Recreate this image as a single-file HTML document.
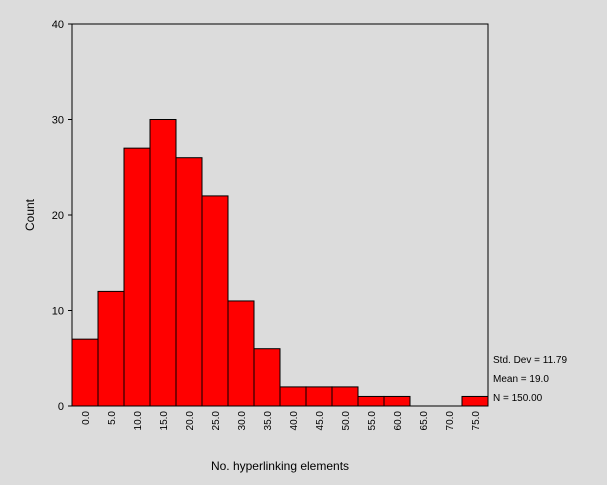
<!DOCTYPE html>
<html><head><meta charset="utf-8"><style>
body{margin:0;background:#dcdcdc;}
svg{display:block;font-family:"Liberation Sans",sans-serif;}
</style></head><body>
<svg id="c" width="607" height="485">
<rect x="0" y="0" width="607" height="485" fill="#dcdcdc"/>
<g id="plot"></g>
<text x="34" y="215" font-size="12" text-anchor="middle" transform="rotate(-90 34 215)">Count</text>
<text x="280" y="470" font-size="12" text-anchor="middle">No. hyperlinking elements</text>
<text x="493" y="363" font-size="10">Std. Dev = 11.79</text>
<text x="493" y="382" font-size="10">Mean = 19.0</text>
<text x="493" y="401" font-size="10">N = 150.00</text>
</svg>
<script>
const categories=["0.0","5.0","10.0","15.0","20.0","25.0","30.0","35.0","40.0","45.0","50.0","55.0","60.0","65.0","70.0","75.0"];
const counts=[7,12,27,30,26,22,11,6,2,2,2,1,1,0,0,1];
const yTicks=[0,10,20,30,40];
const NS="http://www.w3.org/2000/svg";
const g=document.getElementById('plot');
const L=72,R=488,T=24,B=406,yMax=40;
const bw=(R-L)/categories.length;
const y=v=>B-(v/yMax)*(B-T);
const x=i=>L+i*bw;
function mk(t,a){const e=document.createElementNS(NS,t);for(const k in a)e.setAttribute(k,a[k]);g.appendChild(e);return e;}
const frame=mk('rect',{x:L,y:T,width:R-L,height:B-T,fill:'#dcdcdc',stroke:'#000','stroke-width':1});


counts.forEach((v,i)=>{
  if(v<=0)return;
  const r=mk('rect',{x:x(i),y:y(v),width:bw,height:B-y(v),fill:'#ff0000',stroke:'#000','stroke-width':1});
  
  
});
yTicks.forEach(t=>{
  const l=mk('line',{x1:L-4,x2:L,y1:y(t),y2:y(t),stroke:'#000'});
  
  
  const tx=mk('text',{x:L-8,y:y(t)+4,'font-size':11,'text-anchor':'end'});
  tx.textContent=t;
  
  
});
categories.forEach((c,i)=>{
  const cx=x(i)+bw/2;
  const tx=mk('text',{x:0,y:0,'font-size':10,'text-anchor':'end',transform:`translate(${cx+4},${B+5}) rotate(-90)`});
  tx.textContent=c;
  
  
});
</script>
</body></html>
